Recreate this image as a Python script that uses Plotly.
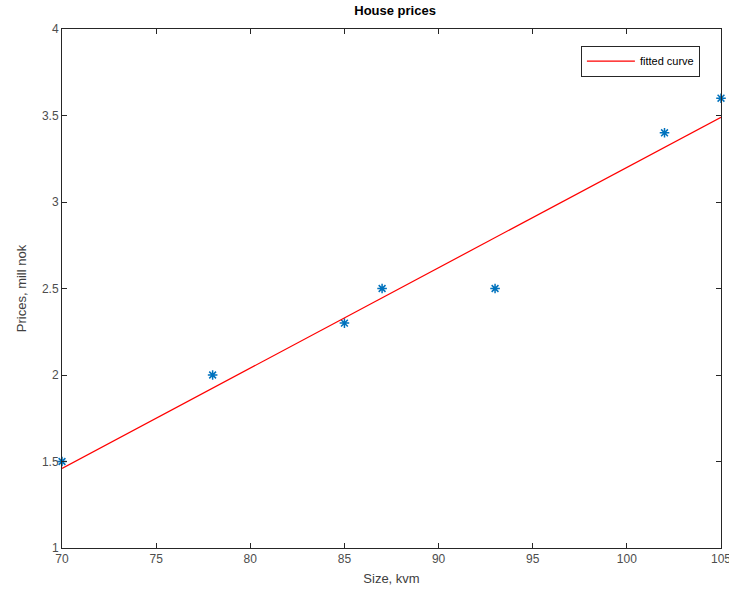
import plotly.graph_objects as go

size_kvm = [70, 78, 85, 87, 93, 102, 105]
price_mill = [1.5, 2.0, 2.3, 2.5, 2.5, 3.4, 3.6]
fit_x = [70, 105]
fit_y = [1.46, 3.49]

x_ticks = [70, 75, 80, 85, 90, 95, 100, 105]
y_ticks = [1, 1.5, 2, 2.5, 3, 3.5, 4]
y_tick_text = ["1", "1.5", "2", "2.5", "3", "3.5", "4"]

fig = go.Figure()
fig.add_trace(go.Scatter(
    x=size_kvm, y=price_mill, mode="markers", showlegend=False,
    marker=dict(symbol="asterisk-open", size=8, color="#0072BD",
                line=dict(color="#0072BD", width=1.5)),
    cliponaxis=False,
))
fig.add_trace(go.Scatter(
    x=fit_x, y=fit_y, mode="lines", name="fitted curve",
    line=dict(color="#FF0000", width=1.2),
))

axis_common = dict(
    showline=True, linecolor="#262626", linewidth=1, mirror="ticks",
    ticks="inside", ticklen=5, tickcolor="#262626", showgrid=False,
    zeroline=False, tickfont=dict(size=12, color="#4d4d4d"),
    ticklabeloverflow="allow", automargin=False,
)
fig.update_layout(
    width=729, height=599,
    margin=dict(l=62, r=8, t=29, b=51),
    paper_bgcolor="white", plot_bgcolor="white",
    font=dict(family="Liberation Sans, Arial, sans-serif", color="#404040"),
    title=dict(text="<b>House prices</b>", x=0.542, xanchor="center",
               y=0.99, yanchor="top", font=dict(size=13, color="#000000")),
    xaxis=dict(range=[70, 105], tickvals=x_ticks, title=dict(text="Size, kvm", standoff=8,
               font=dict(size=13, color="#404040")), **axis_common),
    yaxis=dict(range=[1, 4], tickvals=y_ticks, ticktext=y_tick_text,
               title=dict(text="Prices, mill nok", standoff=12,
               font=dict(size=13, color="#404040")), **axis_common),
    legend=dict(x=0.968, y=0.968, xanchor="right", yanchor="top",
                bordercolor="#262626", borderwidth=1, bgcolor="white",
                font=dict(size=11, color="#000000"),
                itemwidth=48, tracegroupgap=0),
)
fig.write_html("out.html")
